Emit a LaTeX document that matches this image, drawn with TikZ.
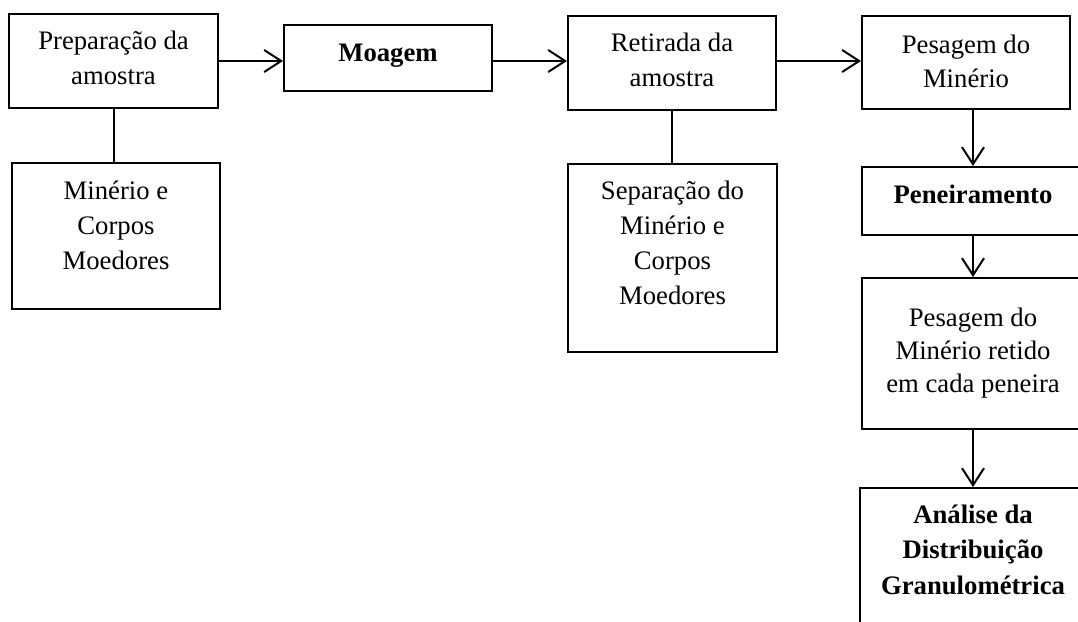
\documentclass[tikz,border=0pt]{standalone}
\usepackage{fontspec}
\setmainfont{Liberation Serif}
\usetikzlibrary{arrows.meta}

\tikzset{
    etapa/.style={draw, line width=2pt, inner sep=0pt, anchor=north west},
    seta/.style={line width=2pt, -{Straight Barb[length=17pt,width=22pt]}},
    liga/.style={line width=2pt}
}
% #1 largura, #2 altura, #3 primeira linha, #4 entrelinha, #5 texto
\newcommand{\caixa}[5]{\parbox[t][#2pt][t]{#1pt}{\centering\fontsize{26.7}{#4}\selectfont\rule{0pt}{#3pt}#5}}

\begin{document}
\begin{tikzpicture}[x=1pt,y=-1pt]
    \clip (0,0) rectangle (1078,621);

    \node[etapa] (prep)     at (8,13)    {\caixa{209}{94}{35}{35}{Preparação da\\amostra}};
    \node[etapa] (minerio)  at (11,162)  {\caixa{208}{146}{36}{35}{Minério e\\Corpos\\Moedores}};
    \node[etapa] (moagem)   at (283,24)  {\caixa{208}{66}{36}{35}{\bfseries Moagem}};
    \node[etapa] (retirada) at (567,15)  {\caixa{208}{94}{35}{35}{Retirada da\\amostra}};
    \node[etapa] (separa)   at (567,163) {\caixa{209}{188}{35}{35}{Separação do\\Minério e\\Corpos\\Moedores}};
    \node[etapa] (pesagem)  at (861,15)  {\caixa{208}{93}{37}{34}{Pesagem do\\Minério}};
    \node[etapa] (peneira)  at (861,166) {\caixa{222}{68}{36}{35}{\bfseries Peneiramento}};
    \node[etapa] (retido)   at (861,277) {\caixa{222}{151}{48}{33}{Pesagem do\\Minério retido\\em cada peneira}};
    \node[etapa] (analise)  at (859,487) {\caixa{226}{200}{35}{35.5}{\bfseries Análise da\\Distribuição\\Granulométrica}};

    % linha principal
    \draw[seta] (prep.east) -- (prep.east -| moagem.west);
    \draw[seta] (moagem.east |- prep.east) -- (retirada.west |- prep.east);
    \draw[seta] (retirada.east |- prep.east) -- (pesagem.west |- prep.east);

    \draw[liga] (prep.south) -- (prep.south |- minerio.north);
    \draw[liga] (retirada.south) -- (retirada.south |- separa.north);

    % coluna da direita
    \draw[seta] (peneira.north |- pesagem.south) -- (peneira.north);
    \draw[seta] (peneira.south) -- (retido.north);
    \draw[seta] (retido.south) -- (retido.south |- analise.north);

\end{tikzpicture}
\end{document}
